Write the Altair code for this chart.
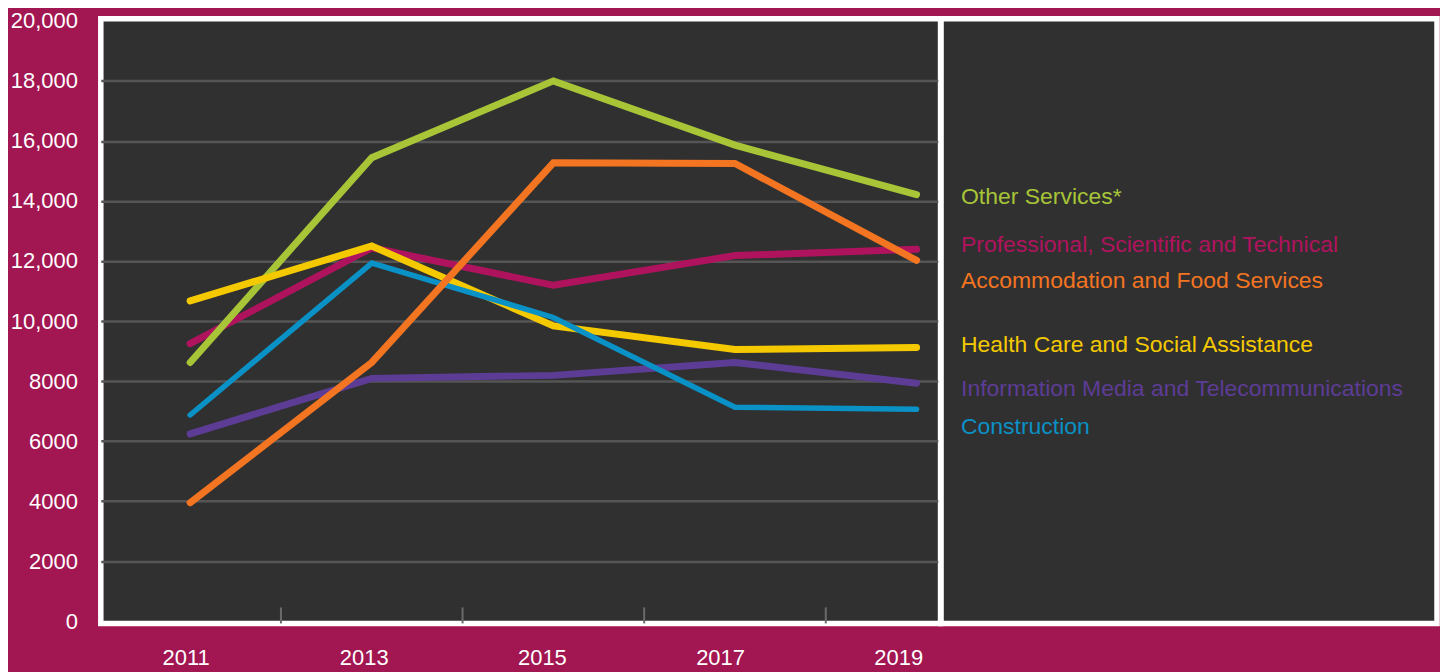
import altair as alt
import pandas as pd

years = [2011, 2013, 2015, 2017, 2019]
series_names = [
    "Other Services*",
    "Professional, Scientific and Technical",
    "Accommodation and Food Services",
    "Health Care and Social Assistance",
    "Information Media and Telecommunications",
    "Construction",
]
other_services = [8620, 15440, 18000, 15860, 14210]
professional = [9250, 12440, 11190, 12180, 12390]
accommodation = [3950, 8620, 15270, 15250, 12020]
health_care = [10670, 12500, 9840, 9050, 9120]
info_media = [6240, 8090, 8190, 8620, 7930]
construction = [6870, 11930, 10120, 7130, 7060]

series_values = [other_services, professional, accommodation, health_care, info_media, construction]
series_colors = ["#A8C538", "#B0135E", "#F37421", "#F5C900", "#5D3C96", "#0A91C5"]
series_widths = [7, 7, 7, 7, 7, 5.5]
draw_order = [1, 0, 3, 4, 5, 2]  # bottom to top

y_ticks = [0, 2000, 4000, 6000, 8000, 10000, 12000, 14000, 16000, 18000, 20000]
minor_tick_years = [2012, 2014, 2016, 2018]
x_label_years = [2011, 2013, 2015, 2017, 2019]

legend_offsets = [178.7, 226.7, 262.7, 327.2, 370.7, 408.7]

FONT = "Liberation Sans"
BG = "#A21651"
PANEL = "#303030"

W_MAIN = 841.5
W_LEG = 497
H = 606

rows = []
for name, vals in zip(series_names, series_values):
    for yr, v in zip(years, vals):
        rows.append({"series": name, "year": yr, "value": v})
df = pd.DataFrame(rows)

x_scale = alt.Scale(domain=[2010.016, 2019.264], nice=False, zero=False)
y_scale = alt.Scale(domain=[-73, 20073], nice=False, zero=False)

y_axis = alt.Axis(
    values=y_ticks,
    labelExpr="datum.value >= 10000 ? format(datum.value, ',') : format(datum.value, 'd')",
    grid=True,
    gridColor="#555555",
    gridWidth=2.5,
    gridOpacity=alt.condition("datum.value > 0 && datum.value < 20000", alt.value(1), alt.value(0)),
    ticks=False,
    domain=False,
    labelColor="white",
    labelFontSize=22,
    labelFont=FONT,
    labelPadding=23.5,
    title=None,
)

line_layers = []
for idx in draw_order:
    name = series_names[idx]
    line_layers.append(
        alt.Chart(df)
        .transform_filter(alt.datum.series == name)
        .mark_line(color=series_colors[idx], strokeWidth=series_widths[idx], strokeCap="round", strokeJoin="miter")
        .encode(
            x=alt.X("year:Q", scale=x_scale, axis=None),
            y=alt.Y("value:Q", scale=y_scale, axis=y_axis),
        )
    )

ticks = (
    alt.Chart(pd.DataFrame({"year": minor_tick_years}))
    .mark_rule(color="#6a6a6a", strokeWidth=2)
    .encode(
        x=alt.X("year:Q", scale=x_scale, axis=None),
        y=alt.value(H - 16),
        y2=alt.value(H),
    )
)

inner = alt.layer(*line_layers, ticks)

x_labels = (
    alt.Chart(pd.DataFrame({"year": x_label_years, "label": [str(y) for y in x_label_years]}))
    .mark_text(color="white", fontSize=22, font=FONT, baseline="middle", align="center")
    .encode(
        x=alt.X("year:Q", scale=alt.Scale(domain=[2010.042, 2019.47], nice=False, zero=False), axis=None),
        y=alt.value(H + 35),
        text="label:N",
    )
)

main = alt.layer(inner, x_labels).resolve_scale(x="independent").properties(width=W_MAIN, height=H)

legend_layers = []
for name, color, off in zip(series_names, series_colors, legend_offsets):
    legend_layers.append(
        alt.Chart(pd.DataFrame({"label": [name]}))
        .mark_text(color=color, fontSize=23, font=FONT, align="left", baseline="middle")
        .encode(x=alt.value(20), y=alt.value(off), text="label:N")
    )
legend = alt.layer(*legend_layers).properties(width=W_LEG, height=H)

chart = (
    alt.hconcat(main, legend, spacing=0, bounds="flush")
    .properties(padding={"left": -1, "top": -2, "right": 0, "bottom": 0})
    .configure(background=BG)
    .configure_view(fill=PANEL, stroke="white", strokeWidth=5.5)
)

chart.save("out.html", embed_options={"renderer": "svg", "actions": False})
